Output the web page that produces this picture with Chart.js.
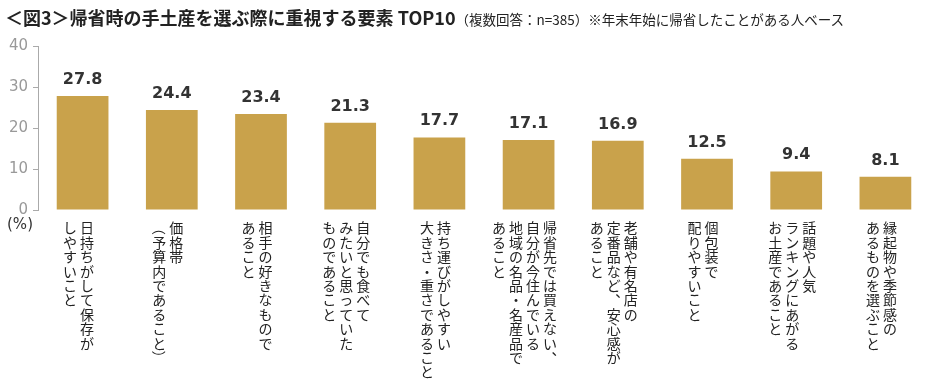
<!DOCTYPE html>
<html>
<head>
    <meta charset="UTF-8">
    <title>帰省時の手土産を選ぶ際に重視する要素 TOP10</title>
    <script src="https://cdn.jsdelivr.net/npm/chart.js"></script>
    <style>
        html, body {
            margin: 0;
            padding: 0;
            background: #fff;
        }
        #wrap {
            position: relative;
            width: 934px;
            height: 386px;
        }
        #title {
            position: absolute;
            left: 5px;
            top: 4px;
            white-space: nowrap;
            color: #222;
            font-family: "Noto Sans CJK JP", sans-serif;
            line-height: 26px;
        }
        #title b {
            font-size: 18px;
        }
        #title span {
            font-size: 13.5px;
        }
    </style>
</head>
<body>
    <div id="wrap">
        <div id="title"><b>＜図3＞帰省時の手土産を選ぶ際に重視する要素 TOP10</b><span>（複数回答：n=385）※年末年始に帰省したことがある人ベース</span></div>
        <canvas id="chart" width="934" height="386"></canvas>
    </div>
    <script>
        const categories = [
            ["日持ちがして保存が", "しやすいこと"],
            ["価格帯", "（予算内であること）"],
            ["相手の好きなもので", "あること"],
            ["自分でも食べて", "みたいと思っていた", "ものであること"],
            ["持ち運びがしやすい", "大きさ・重さであること"],
            ["帰省先では買えない、", "自分が今住んでいる", "地域の名品・名産品で", "あること"],
            ["老舗や有名店の", "定番品など、安心感が", "あること"],
            ["個包装で", "配りやすいこと"],
            ["話題や人気", "ランキングにあがる", "お土産であること"],
            ["縁起物や季節感の", "あるものを選ぶこと"]
        ];
        const values = [27.8, 24.4, 23.4, 21.3, 17.7, 17.1, 16.9, 12.5, 9.4, 8.1];
        const yTicks = [0, 10, 20, 30, 40];
        const unitLabel = "(%)";

        const BAR_COLOR = "#C9A24B";
        const LABEL_FONT = 14;
        const CHAR_STEP = 14.4;
        const COL_STEP = 17;

        // value labels above bars
        const valueLabels = {
            id: "valueLabels",
            afterDatasetsDraw(chart) {
                const ctx = chart.ctx;
                const meta = chart.getDatasetMeta(0);
                ctx.save();
                ctx.font = "bold 16px 'DejaVu Sans', Verdana, sans-serif";
                ctx.fillStyle = "#333";
                ctx.textAlign = "center";
                ctx.textBaseline = "alphabetic";
                meta.data.forEach((bar, i) => {
                    ctx.fillText(values[i].toFixed(1), bar.x, bar.y - 12);
                });
                ctx.restore();
            }
        };

        // vertical (tategaki) category labels under the bars
        const verticalLabels = {
            id: "verticalLabels",
            afterDraw(chart) {
                const ctx = chart.ctx;
                const xs = chart.scales.x;
                const ys = chart.scales.y;
                const top = ys.getPixelForValue(0) + 11;
                ctx.save();
                ctx.font = LABEL_FONT + "px 'Noto Sans CJK JP', sans-serif";
                ctx.fillStyle = "#222";
                ctx.textAlign = "center";
                ctx.textBaseline = "middle";
                categories.forEach((lines, i) => {
                    const cx = xs.getPixelForValue(i) - 4;
                    const n = lines.length;
                    lines.forEach((line, j) => {
                        const x = cx + ((n - 1) / 2 - j) * COL_STEP;
                        Array.from(line).forEach((ch, k) => {
                            const y = top + LABEL_FONT / 2 + k * CHAR_STEP;
                            if (ch === "（" || ch === "）") {
                                ctx.save();
                                ctx.translate(x, y);
                                ctx.rotate(Math.PI / 2);
                                ctx.fillText(ch, 0, 0);
                                ctx.restore();
                            } else if (ch === "、") {
                                ctx.fillText(ch, x + LABEL_FONT * 0.6, y - LABEL_FONT * 0.6);
                            } else {
                                ctx.fillText(ch, x, y);
                            }
                        });
                    });
                });
                // unit label
                ctx.font = "15px 'DejaVu Sans', Verdana, sans-serif";
                ctx.fillStyle = "#333";
                ctx.fillText(unitLabel, 20, ys.getPixelForValue(0) + 15);
                ctx.restore();
            }
        };

        const chart = new Chart(document.getElementById("chart"), {
            type: "bar",
            data: {
                labels: categories.map(c => c.join("")),
                datasets: [{
                    data: values,
                    backgroundColor: BAR_COLOR,
                    borderWidth: 0,
                    barPercentage: 0.58,
                    categoryPercentage: 1.0
                }]
            },
            options: {
                responsive: false,
                animation: false,
                events: [],
                layout: {
                    padding: { top: 46, right: 4, bottom: 168, left: 0 }
                },
                plugins: {
                    legend: { display: false },
                    tooltip: { enabled: false }
                },
                scales: {
                    x: {
                        ticks: { display: false },
                        grid: { display: false },
                        border: { display: false }
                    },
                    y: {
                        min: 0,
                        max: 40,
                        afterBuildTicks(scale) {
                            scale.ticks = yTicks.map(v => ({ value: v }));
                        },
                        afterFit(scale) {
                            scale.width = 38;
                        },
                        ticks: {
                            color: "#999",
                            padding: 5,
                            font: { family: "'DejaVu Sans', Verdana, sans-serif", size: 15 }
                        },
                        grid: {
                            drawOnChartArea: false,
                            drawTicks: true,
                            tickLength: 5,
                            color: "#aaa"
                        },
                        border: { display: true, color: "#aaa" }
                    }
                }
            },
            plugins: [valueLabels, verticalLabels]
        });
    </script>
</body>
</html>
